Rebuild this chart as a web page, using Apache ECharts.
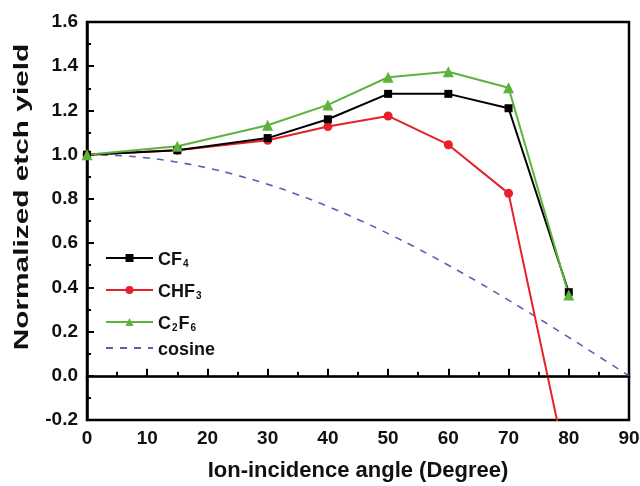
<!DOCTYPE html>
<html>
<head>
<meta charset="utf-8">
<script src="https://cdn.jsdelivr.net/npm/echarts@6/dist/echarts.min.js"></script>
<style>html,body{margin:0;padding:0;background:#fff;}#main{width:640px;height:486px;}</style>
</head>
<body>
<div id="main"></div>
<script>
var angles = [0, 15, 30, 40, 50, 60, 70, 80];
var cf4 = [1.0, 1.02, 1.075, 1.16, 1.275, 1.275, 1.21, 0.378];
var chf3 = [1.0, 1.02, 1.065, 1.127, 1.175, 1.045, 0.825, -0.45];
var c2f6 = [1.0, 1.038, 1.133, 1.225, 1.35, 1.375, 1.303, 0.365];
var cosAngles = [0, 5, 10, 15, 20, 25, 30, 35, 40, 45, 50, 55, 60, 65, 70, 75, 80, 85, 90];
var cosVals = [1.0, 0.996, 0.985, 0.966, 0.94, 0.906, 0.866, 0.819, 0.766, 0.707, 0.643, 0.574, 0.5, 0.423, 0.342, 0.259, 0.174, 0.087, 0.0];

function pairs(xs, ys) {
    var res = [];
    for (var i = 0; i < xs.length; i++) res.push([xs[i], ys[i]]);
    return res;
}

var legendNames = {
    'CF4': '{a|CF}{s|4}',
    'CHF3': '{a|CHF}{s|3}',
    'C2F6': '{a|C}{s|2}{a|F}{s|6}',
    'cosine': '{a|cosine}'
};

var myChart = echarts.init(document.getElementById('main'));
var font = 'Liberation Sans, Arial, sans-serif';

var option = {
    backgroundColor: '#fff',
    animation: false,
    grid: {
        left: 87, right: 11, top: 22, bottom: 66,
        outerBoundsMode: 'none',
        containLabel: false,
        show: true, borderColor: '#000', borderWidth: 2.5
    },
    graphic: [{
        type: 'text',
        x: 22, y: 197,
        rotation: Math.PI / 2,
        scaleX: 1.42,
        style: {
            text: 'Normalized etch yield',
            font: 'bold 21px Liberation Sans',
            fill: '#111',
            textAlign: 'center',
            textVerticalAlign: 'middle',
            align: 'center',
            verticalAlign: 'middle'
        }
    }],
    legend: {
        orient: 'vertical',
        left: 105,
        top: 245,
        padding: 0,
        itemWidth: 47,
        itemHeight: 10,
        itemGap: 8,
        formatter: function (n) { return legendNames[n]; },
        textStyle: {
            fontFamily: font,
            rich: {
                a: { fontSize: 18, fontWeight: 'bold', color: '#111', fontFamily: font, lineHeight: 22, verticalAlign: 'bottom' },
                s: { fontSize: 10, fontWeight: 'bold', color: '#111', fontFamily: font, lineHeight: 22, verticalAlign: 'bottom', padding: [14, 1, 0, 1] }
            }
        },
        data: [
            { name: 'CF4' },
            { name: 'CHF3' },
            { name: 'C2F6' },
            { name: 'cosine', itemStyle: { opacity: 0 } }
        ]
    },
    xAxis: {
        type: 'value',
        min: 0, max: 90, interval: 10,
        name: 'Ion-incidence angle (Degree)',
        nameLocation: 'middle',
        nameGap: 40,
        nameTextStyle: { fontSize: 22, fontWeight: 'bold', color: '#111', fontFamily: font },
        axisLine: { lineStyle: { color: '#000', width: 2.5 } },
        axisTick: { inside: true, length: 7, lineStyle: { color: '#000', width: 2 } },
        minorTick: { show: true, splitNumber: 2, length: 4, lineStyle: { color: '#000', width: 2 } },
        axisLabel: { fontSize: 19, fontWeight: 'bold', color: '#111', fontFamily: font, margin: 9 },
        splitLine: { show: false }
    },
    yAxis: {
        type: 'value',
        min: -0.2, max: 1.6, interval: 0.2,
        axisLine: { lineStyle: { color: '#000', width: 2.5 } },
        axisTick: { inside: true, length: 7, lineStyle: { color: '#000', width: 2 } },
        minorTick: { show: true, splitNumber: 2, length: 4, lineStyle: { color: '#000', width: 2 } },
        axisLabel: {
            fontSize: 19, fontWeight: 'bold', color: '#111', fontFamily: font, margin: 9,
            formatter: function (v) { return v.toFixed(1); }
        },
        splitLine: { show: false }
    },
    series: [
        {
            name: 'cosine',
            type: 'line',
            data: pairs(cosAngles, cosVals),
            smooth: true,
            symbol: 'none',
            itemStyle: { color: '#5a5fb0' },
            lineStyle: { color: '#5a5fb0', width: 1.6, type: [7, 7] },
            markLine: {
                silent: true,
                symbol: 'none',
                label: { show: false },
                lineStyle: { color: '#000', width: 1.3, type: 'solid' },
                data: [{ yAxis: 0 }]
            }
        },
        {
            name: 'CHF3',
            type: 'line',
            data: pairs(angles, chf3),
            symbol: 'circle',
            symbolSize: 9,
            itemStyle: { color: '#e8202a' },
            lineStyle: { color: '#e8202a', width: 2 }
        },
        {
            name: 'CF4',
            type: 'line',
            data: pairs(angles, cf4),
            symbol: 'rect',
            symbolSize: 8,
            itemStyle: { color: '#000' },
            lineStyle: { color: '#000', width: 2 }
        },
        {
            name: 'C2F6',
            type: 'line',
            data: pairs(angles, c2f6),
            symbol: 'triangle',
            symbolSize: 11,
            itemStyle: { color: '#5cb33c' },
            lineStyle: { color: '#5cb33c', width: 2 }
        }
    ]
};

myChart.setOption(option);
</script>
</body>
</html>
